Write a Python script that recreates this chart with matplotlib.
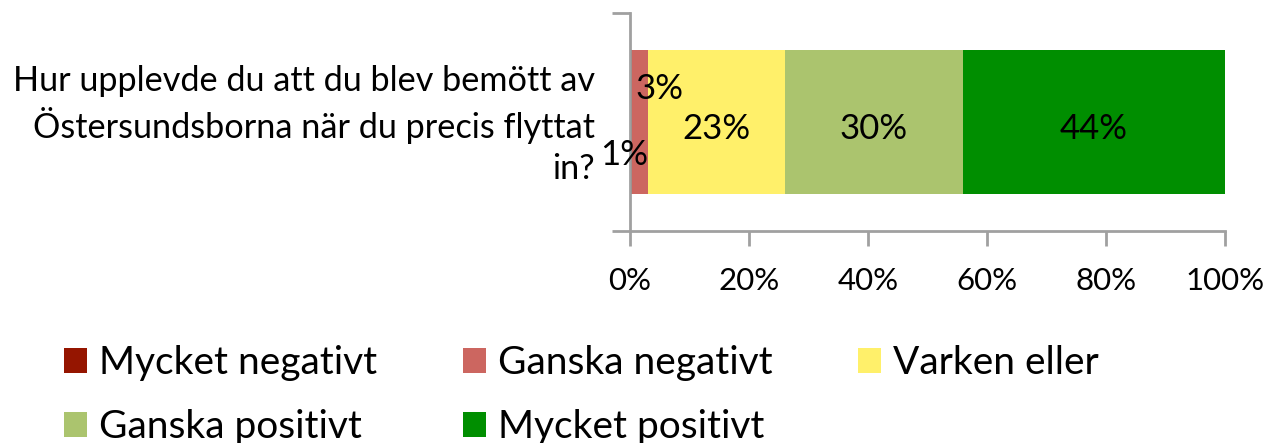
import matplotlib
matplotlib.use('Agg')
import matplotlib.pyplot as plt
from matplotlib.patches import Patch

plt.rcParams['font.family'] = ['Lato', 'DejaVu Sans']

# data
question = 'Hur upplevde du att du blev bemött av\nÖstersundsborna när du precis flyttat\nin?'
categories = ['Mycket negativt', 'Ganska negativt', 'Varken eller', 'Ganska positivt', 'Mycket positivt']
values = [0.4, 2.6, 23.0, 30.0, 44.0]
labels = ['1%', '3%', '23%', '30%', '44%']
colors = ['#951500', '#CC6660', '#FFF06A', '#ABC46E', '#008E00']
xticks = [0, 20, 40, 60, 80, 100]

fig = plt.figure(figsize=(12.77, 4.43), dpi=100)
ax = fig.add_axes([630/1277, 1-231/443, 595/1277, 218/443])

left = 0
bars = []
for v, c in zip(values, colors):
    ax.barh(0, v, left=left, height=0.665, color=c, edgecolor='none')
    bars.append((left, v))
    left += v

# labels (Excel style, small ones get pushed aside)
fs = 25
ax.text(bars[0][0] - 1.0, -0.15, labels[0], ha='center', va='center', fontsize=fs)
ax.text(bars[1][0] + 4.5, 0.15, labels[1], ha='center', va='center', fontsize=fs)
for (l, v), t in zip(bars[2:], labels[2:]):
    ax.text(l + v / 2, -0.03, t, ha='center', va='center', fontsize=fs)

ax.set_xlim(0, 100)
ax.set_ylim(-0.5, 0.5)
ax.set_xticks(xticks)
ax.set_xticklabels([f'{t}%' for t in xticks], fontsize=22.5)
ax.set_yticks([-0.5, 0.5])
ax.set_yticklabels([])
ax.tick_params(axis='x', length=11, width=2, color='#A0A0A0', pad=15)
ax.tick_params(axis='y', length=13, width=2, color='#A0A0A0')
for s in ['top', 'right']:
    ax.spines[s].set_visible(False)
for s in ['left', 'bottom']:
    ax.spines[s].set_color('#A0A0A0')
    ax.spines[s].set_linewidth(2)

fig.text(595/1277, 1-125/443, question, ha='right', va='center', fontsize=24.7,
         linespacing=1.33)

# legend row by row like excel -> reorder for column-major filling
order = [0, 3, 1, 4, 2]
handles = [Patch(facecolor=colors[i], edgecolor='none') for i in order]
fig.legend(handles, [categories[i] for i in order], ncol=3, loc='upper left',
           bbox_to_anchor=(64/1277, 1-345/443), frameon=False, fontsize=28,
           borderpad=0, borderaxespad=0,
           handlelength=0.6, handleheight=0.6, handletextpad=0.3,
           columnspacing=2.2, labelspacing=0.72)

fig.savefig('out.png', dpi=100)
